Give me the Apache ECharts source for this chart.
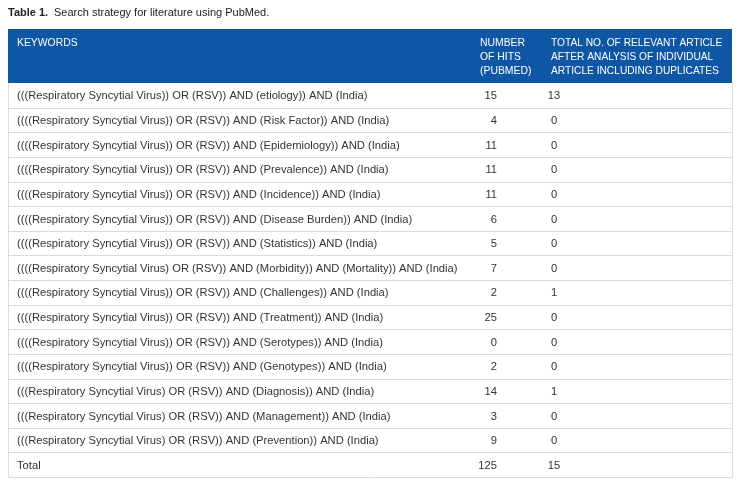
<!DOCTYPE html>
<html><head><meta charset="utf-8">
<script src="https://cdn.jsdelivr.net/npm/echarts@6/dist/echarts.min.js"></script>
<style>html,body{margin:0;padding:0;background:#fff}#c{width:741px;height:486px}</style>
</head><body><div id="c"></div>
<script>
const titleBold = 'Table 1.';
const titleText = 'Search strategy for literature using PubMed.';
const headers = ['KEYWORDS', 'NUMBER\nOF HITS\n(PUBMED)', 'TOTAL NO. OF RELEVANT ARTICLE\nAFTER ANALYSIS OF INDIVIDUAL\nARTICLE INCLUDING DUPLICATES'];
const keywords = [
  '(((Respiratory Syncytial Virus)) OR (RSV)) AND (etiology)) AND (India)',
  '((((Respiratory Syncytial Virus)) OR (RSV)) AND (Risk Factor)) AND (India)',
  '((((Respiratory Syncytial Virus)) OR (RSV)) AND (Epidemiology)) AND (India)',
  '((((Respiratory Syncytial Virus)) OR (RSV)) AND (Prevalence)) AND (India)',
  '((((Respiratory Syncytial Virus)) OR (RSV)) AND (Incidence)) AND (India)',
  '((((Respiratory Syncytial Virus)) OR (RSV)) AND (Disease Burden)) AND (India)',
  '((((Respiratory Syncytial Virus)) OR (RSV)) AND (Statistics)) AND (India)',
  '((((Respiratory Syncytial Virus) OR (RSV)) AND (Morbidity)) AND (Mortality)) AND (India)',
  '((((Respiratory Syncytial Virus)) OR (RSV)) AND (Challenges)) AND (India)',
  '((((Respiratory Syncytial Virus)) OR (RSV)) AND (Treatment)) AND (India)',
  '((((Respiratory Syncytial Virus)) OR (RSV)) AND (Serotypes)) AND (India)',
  '((((Respiratory Syncytial Virus)) OR (RSV)) AND (Genotypes)) AND (India)',
  '(((Respiratory Syncytial Virus) OR (RSV)) AND (Diagnosis)) AND (India)',
  '(((Respiratory Syncytial Virus) OR (RSV)) AND (Management)) AND (India)',
  '(((Respiratory Syncytial Virus) OR (RSV)) AND (Prevention)) AND (India)',
  'Total'
];
const hits = [15, 4, 11, 11, 11, 6, 5, 7, 2, 25, 0, 2, 14, 3, 9, 125];
const relevant = [13, 0, 0, 0, 0, 0, 0, 0, 1, 0, 0, 0, 1, 0, 0, 15];

const FONT = '"Liberation Sans", Arial, Helvetica, sans-serif';
const chart = echarts.init(document.getElementById('c'), null, {renderer: 'canvas'});
const rows = keywords.map((k, i) => [i, k, hits[i], relevant[i]]);

const GL = 8, GR = 9, GT = 83, GB = 9;
const W = 741 - GL - GR;

chart.setOption({
  animation: false,
  backgroundColor: '#fff',
  grid: {left: GL, right: GR, top: GT, bottom: GB},
  xAxis: {type: 'value', min: 0, max: W, show: false},
  yAxis: {type: 'category', data: keywords.map((_, i) => i), inverse: true, show: false, boundaryGap: true},
  graphic: [
    {type: 'text', left: 8, top: 7, style: {text: titleBold, font: 'bold 11px ' + FONT, fill: '#222'}},
    {type: 'text', left: 54, top: 7, style: {text: titleText, font: '11px ' + FONT, fill: '#222'}},
    {type: 'rect', shape: {x: GL, y: 29, width: W, height: GT - 29}, style: {fill: '#0f56a4'}},
    {type: 'text', x: 17, y: 36, style: {text: headers[0], font: '10.4px ' + FONT, fill: '#fff', lineHeight: 14}},
    {type: 'text', x: 480, y: 36, style: {text: headers[1], font: '10.4px ' + FONT, fill: '#fff', lineHeight: 14}},
    {type: 'text', x: 551, y: 36, style: {text: headers[2], font: '10.2px ' + FONT, fill: '#fff', lineHeight: 14}},
    {type: 'polyline', shape: {points: [[GL + 0.5, GT], [GL + 0.5, 486 - GB + 0.5], [GL + W + 0.5, 486 - GB + 0.5], [GL + W + 0.5, GT]]}, style: {stroke: '#dcdcdc', lineWidth: 1, fill: null}, z: 10}
  ],
  series: [{
    type: 'custom',
    data: rows,
    encode: {x: -1, y: 0},
    renderItem: function (params, api) {
      const idx = api.value(0);
      const c = api.coord([0, idx]);
      const h = api.size([0, 1])[1];
      const yc = c[1] + 1;
      const yb = Math.round(c[1] + h / 2) + 0.5;
      const x0 = c[0];
      const r = rows[params.dataIndex];
      const children = [
        {type: 'text', x: api.coord([9, idx])[0], y: yc, style: {text: r[1], font: '11.2px ' + FONT, fill: '#333', verticalAlign: 'middle', textAlign: 'left'}},
        {type: 'text', x: api.coord([489, idx])[0], y: yc, style: {text: String(r[2]), font: '11.2px ' + FONT, fill: '#333', verticalAlign: 'middle', textAlign: 'right'}},
        {type: 'text', x: api.coord([546, idx])[0], y: yc, style: {text: String(r[3]), font: '11.2px ' + FONT, fill: '#333', verticalAlign: 'middle', textAlign: 'center'}}
      ];
      if (params.dataIndex < rows.length - 1) {
        children.push({type: 'line', shape: {x1: x0, y1: yb, x2: api.coord([W, idx])[0], y2: yb}, style: {stroke: '#dcdcdc', lineWidth: 1}});
      }
      return {type: 'group', children: children};
    }
  }]
});
</script></body></html>
